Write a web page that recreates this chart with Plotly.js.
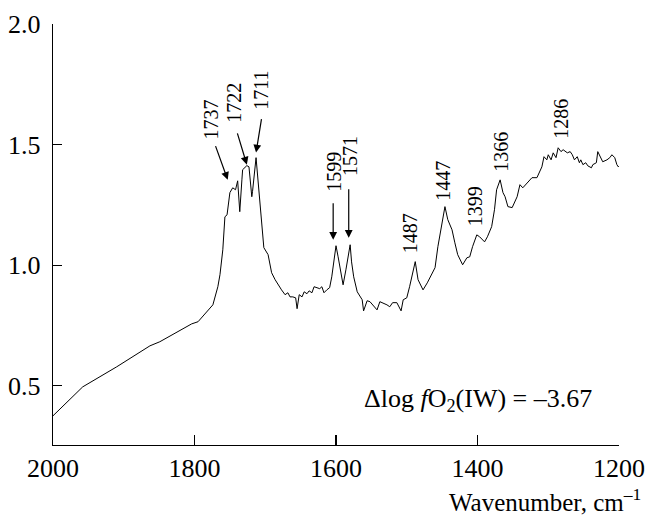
<!DOCTYPE html>
<html>
<head>
<meta charset="utf-8">
<script src="https://cdn.plot.ly/plotly-3.0.1.min.js"></script>
<style>
html,body{margin:0;padding:0;background:#fff;}
#chart{width:649px;height:516px;}
</style>
</head>
<body>
<div id="chart"></div>
<script>
// Spectrum
const wavenumber = [2000,1958,1910,1863,1849,1804,1795,1777,1774,1767,1764,1760,1757,1754,1750,1746,1742,1739,1736,1733,1732,1726,1723,1719,1718,1713,1710,1705,1702,1696,1691,1686,1682,1677,1672,1668,1665,1661,1657,1655,1652,1648,1645,1641,1638,1634,1631,1627,1623,1620,1617,1613,1609,1606,1600,1597,1590,1586,1580,1578,1575,1570,1566,1563,1561,1556,1552,1548,1542,1538,1534,1528,1524,1520,1514,1511,1508,1505,1500,1496,1491,1488,1484,1477,1471,1464,1460,1456,1453,1449,1446,1442,1436,1432,1428,1421,1415,1411,1407,1401,1397,1390,1386,1380,1376,1373,1368,1364,1361,1357,1351,1344,1340,1336,1329,1323,1316,1312,1309,1306,1302,1300,1296,1293,1289,1286,1282,1279,1273,1269,1266,1263,1259,1256,1254,1251,1247,1244,1239,1237,1232,1230,1225,1223,1217,1213,1210,1206,1203,1201,1198];
const absorbance = [0.376,0.496,0.579,0.666,0.683,0.757,0.766,0.828,0.836,0.911,0.961,1.064,1.201,1.209,1.301,1.321,1.313,1.350,1.222,1.354,1.396,1.413,1.408,1.284,1.305,1.446,1.342,1.201,1.073,1.044,0.969,0.940,0.919,0.898,0.878,0.886,0.869,0.869,0.865,0.820,0.878,0.869,0.890,0.882,0.894,0.886,0.911,0.907,0.903,0.911,0.886,0.898,0.907,0.952,1.081,1.035,0.919,0.981,1.085,1.014,0.952,0.890,0.869,0.857,0.811,0.853,0.849,0.836,0.815,0.849,0.845,0.836,0.828,0.845,0.845,0.828,0.811,0.857,0.865,0.911,0.969,1.015,0.940,0.898,0.927,0.969,0.990,1.077,1.126,1.209,1.243,1.189,1.147,1.093,1.044,1.002,1.031,1.035,1.077,1.126,1.118,1.097,1.118,1.160,1.230,1.313,1.354,1.301,1.284,1.243,1.239,1.284,1.334,1.321,1.346,1.363,1.363,1.388,1.408,1.450,1.437,1.458,1.437,1.466,1.446,1.487,1.471,1.479,1.466,1.471,1.458,1.437,1.450,1.425,1.437,1.417,1.425,1.412,1.404,1.417,1.425,1.471,1.437,1.429,1.437,1.446,1.458,1.446,1.417,1.408,1.417];

// Peak labels: text, label position, and optional arrow
const peakLabels = ["1737","1722","1711","1599","1571","1487","1447","1399","1366","1286"];
const labelX = [1777,1744,1706,1604,1580,1496,1449,1404,1368,1282];
const labelY = [1.603,1.674,1.723,1.388,1.454,1.131,1.350,1.243,1.471,1.607];
const arrowHeadX = [1753,1726,1713,1604,1582];
const arrowHeadY = [1.354,1.417,1.467,1.106,1.114];
const arrowTailX = [1771,1740,1705,1604,1582];
const arrowTailY = [1.500,1.553,1.612,1.263,1.321];

const xTicks = [2000,1800,1600,1400,1200];
const yTicks = [0.5,1.0,1.5,2.0];
const yTickText = ["0.5","1.0","1.5","2.0"];

const FONT = 'Liberation Serif';

const annotations = [];
peakLabels.forEach((t,i)=>{
  annotations.push({x:labelX[i], y:labelY[i], xref:'x', yref:'y', text:t, textangle:-90, showarrow:false,
    font:{family:FONT,size:20,color:'#000'}, xanchor:'center', yanchor:'middle'});
});
arrowHeadX.forEach((hx,i)=>{
  annotations.push({x:hx, y:arrowHeadY[i], ax:arrowTailX[i], ay:arrowTailY[i], xref:'x', yref:'y', axref:'x', ayref:'y',
    text:'', showarrow:true, arrowhead:2, arrowsize:1.3, arrowwidth:1.2, arrowcolor:'#000', standoff:0, startstandoff:0});
});
annotations.push({x:1743, y:2.005, xref:'x', yref:'y', text:'C=O', showarrow:false,
  font:{family:FONT,size:26,color:'#000'}, xanchor:'center', yanchor:'middle'});
annotations.push({x:1399.5, y:0.442, xref:'x', yref:'y', text:'Δlog <i>f</i>O<sub>2</sub>(IW) = –3.67', showarrow:false,
  font:{family:FONT,size:26,color:'#000'}, xanchor:'center', yanchor:'middle'});
annotations.push({x:1.04, y:-0.13, xref:'paper', yref:'paper', text:'Wavenumber, cm<sup>–1</sup>', showarrow:false,
  font:{family:FONT,size:25,color:'#000'}, xanchor:'right', yanchor:'middle', borderpad:0});

const trace = {x:wavenumber, y:absorbance, type:'scatter', mode:'lines',
  line:{color:'#000', width:1}, hoverinfo:'skip', showlegend:false};

const layout = {
  width:649, height:516,
  margin:{l:53, r:30, t:24, b:71, pad:0},
  paper_bgcolor:'#fff', plot_bgcolor:'#fff',
  showlegend:false,
  xaxis:{range:[2000,1200], tickvals:xTicks, ticktext:xTicks.map(String), ticks:'inside', ticklen:10, tickwidth:1.2,
    tickcolor:'#000', showline:true, linecolor:'#000', linewidth:1.2, showgrid:false, zeroline:false,
    tickfont:{family:FONT,size:26,color:'#000'}, fixedrange:true},
  yaxis:{range:[0.255,2.0], tickvals:yTicks, ticktext:yTickText, ticks:'inside', ticklen:9, tickwidth:1.2,
    tickcolor:'#000', showline:true, linecolor:'#000', linewidth:1.2, showgrid:false, zeroline:false,
    tickfont:{family:FONT,size:26,color:'#000'}, ticklabelstandoff:6, fixedrange:true},
  annotations:annotations
};

Plotly.newPlot('chart',[trace],layout,{displayModeBar:false, staticPlot:true});
</script>
</body>
</html>
